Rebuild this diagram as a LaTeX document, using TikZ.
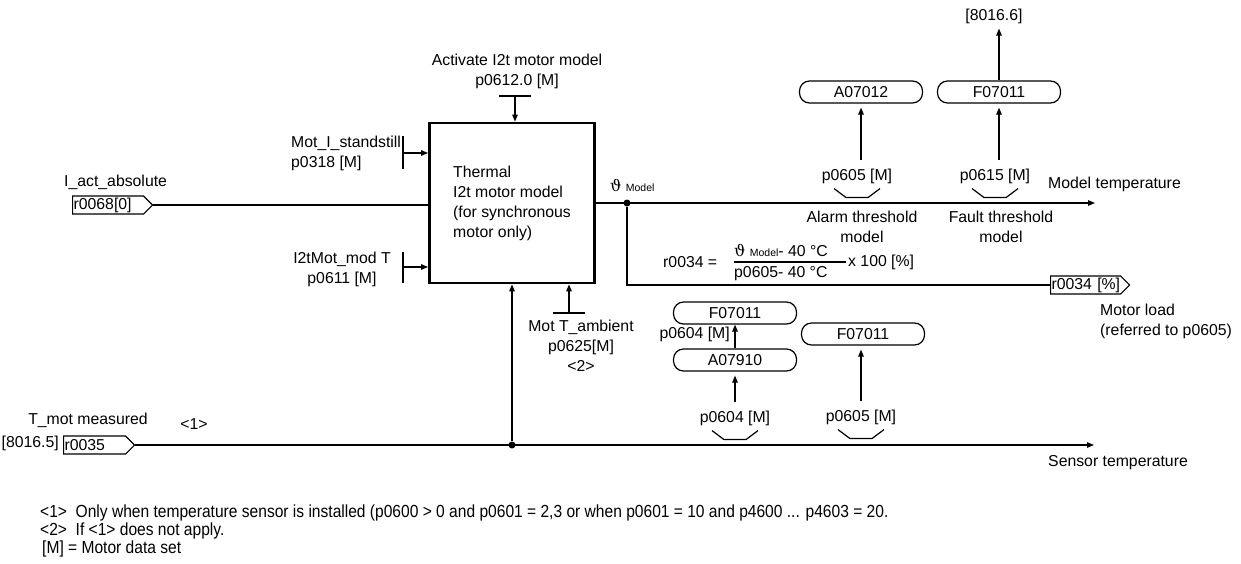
\documentclass[tikz,border=0pt]{standalone}
\usepackage{fontspec}
\setmainfont{Liberation Sans}
\newfontfamily\narrowfont[FakeStretch=0.89]{Liberation Sans}
\newfontfamily\thetafont{DejaVu Serif}
\usetikzlibrary{positioning, arrows.meta, shapes.symbols}

\begin{document}
\begin{tikzpicture}[
    x=1pt, y=-1pt,
    font=\fontsize{15.8}{20}\selectfont,
    lbl/.style={inner sep=0pt, align=center},
    ln/.style={line width=1.2pt},
    arr/.style={ln, -{Triangle[length=7pt,width=5.5pt]}},
    model/.style={draw, line width=2.8pt, minimum width=165, minimum height=160},
    msg/.style={draw, ln, rounded corners=10pt, minimum width=123, minimum height=22, inner sep=0pt},
    conn/.style={draw, ln, signal, signal to=east, signal pointer angle=90, minimum height=18,
      inner xsep=1pt, inner ysep=0pt, text width=#1, align=left, anchor=west},
    dot/.style={circle, fill, inner sep=0pt, minimum size=7},
    note/.style={lbl, anchor=west, font=\narrowfont\fontsize{17.5}{18}\selectfont},
    pics/thr/.style={code={\draw[ln] (-23,0) -- (-11,9) -- (11,9) -- (23,0);}}
  ]
  \useasboundingbox (0,0) rectangle (1241,563);

  % thermal model
  \node[model] (model) at (512,203) {};
  \node[lbl, anchor=west, align=left] (modeltxt) at (453,203) {Thermal\\I2t motor model\\(for synchronous\\motor only)};

  % inputs
  \node[lbl] (act) at (517,71) {Activate I2t motor model\\p0612.0 [M]};
  \coordinate (actbar) at (515,96);
  \draw[ln] ([xshift=-16pt]actbar) -- ([xshift=16pt]actbar);
  \draw[arr] (actbar) -- (actbar |- model.north);

  \node[lbl, anchor=west, align=left] (stand) at (291,153) {Mot\_I\_standstill\\p0318 [M]};
  \coordinate (standbar) at (403,153);
  \draw[ln] ([yshift=17pt]standbar) -- ([yshift=-16pt]standbar);
  \draw[arr] (standbar) -- (standbar -| model.west);

  \node[lbl] (modt) at (342,269) {I2tMot\_mod T\\p0611 [M]};
  \coordinate (modtbar) at (403,267);
  \draw[ln] ([yshift=15pt]modtbar) -- ([yshift=-16pt]modtbar);
  \draw[arr] (modtbar) -- (modtbar -| model.west);

  \node[conn=69] (ract) at (72,205) {r0068[0]};
  \node[lbl, anchor=west] (iact) at (64,182) {I\_act\_absolute};
  \draw[ln] (ract.east) -- (ract.east -| model.west);

  \coordinate (ambbar) at (569,313);
  \draw[ln] ([xshift=-16pt]ambbar) -- ([xshift=16pt]ambbar);
  \draw[arr] (ambbar) -- (ambbar |- model.south);
  \node[lbl] (amb) at (581,346) {Mot T\_ambient\\p0625[M]\\<2>};

  % model temperature
  \node[dot] (mjunc) at (627,203) {};
  \coordinate (mtend) at (1095,203);
  \draw[arr] (model.east) -- (mtend);
  \node[lbl, anchor=south west] (theta) at (610,192) {{\thetafont ϑ} {\fontsize{10.5}{10}\selectfont Model}};
  \node[lbl, anchor=west] (mtemp) at (1048,184) {Model temperature};

  \node[msg] (a7012) at (861,92) {A07012};
  \node[lbl] (p605a) at (857,176) {p0605 [M]};
  \pic at ([yshift=-5pt]p605a.south) {thr};
  \draw[arr, shorten <=8pt, shorten >=4pt] (p605a.north -| a7012.south) -- (a7012.south);
  \node[lbl] (alarm) at (862,227) {Alarm threshold\\model};

  \node[msg] (f7011) at (999,92) {F07011};
  \node[lbl] (p615) at (995,176) {p0615 [M]};
  \pic at ([yshift=-5pt]p615.south) {thr};
  \draw[arr, shorten <=8pt, shorten >=4pt] (p615.north -| f7011.south) -- (f7011.south);
  \node[lbl] (f8016) at (994,16) {[8016.6]};
  \draw[arr, shorten >=5pt] (f7011.north) -- (f8016.south -| f7011.north);
  \node[lbl] (fault) at (1001,227) {Fault threshold\\model};

  % motor load
  \node[conn=68] (r34) at (1050,285) {r0034~[\%]};
  \draw[ln] (mjunc) |- (r34.west);
  \node[lbl, anchor=north west, align=left] (mload) at (1100,304) {Motor load\\(referred to p0605)};

  \node[lbl, anchor=west] (r34eq) at (663,262) {r0034 =};
  \node[lbl, anchor=west] (num) at (734,250) {{\thetafont ϑ} {\fontsize{10.5}{10}\selectfont Model}- 40 °C};
  \node[lbl, anchor=west] (den) at (734,274) {p0605- 40 °C};
  \draw[ln] (num.west |- r34eq) -- ++(112,0);
  \node[lbl, anchor=west] (pct) at (848,262) {x 100 [\%]};

  % messages on sensor side
  \node[msg] (f7011b) at (735,313) {F07011};
  \node[msg] (a7910) at (735,360) {A07910};
  \draw[arr] (a7910.north) -- (f7011b.south);
  \node[lbl, anchor=east] (p604m) at (730,334) {p0604 [M]};
  \node[lbl] (p604b) at (735,418) {p0604 [M]};
  \pic at ([yshift=-5pt]p604b.south) {thr};
  \draw[arr, shorten <=8pt, shorten >=4pt] (p604b.north) -- (a7910.south);

  \node[msg] (f7011c) at (863,334) {F07011};
  \node[lbl] (p605b) at (861,417) {p0605 [M]};
  \pic at ([yshift=-5pt]p605b.south) {thr};
  \draw[arr, shorten <=8pt, shorten >=4pt] (p605b.north) -- (p605b.north |- f7011c.south);

  % sensor temperature
  \node[conn=60] (r35) at (63,445) {r0035};
  \node[lbl, anchor=east] (ref5) at (59,443) {[8016.5]};
  \node[lbl] (tmot) at (88,420) {T\_mot measured};
  \node[lbl] (note1) at (194,424) {<1>};
  \node[dot] (sjunc) at (512,445) {};
  \coordinate (stend) at (1094,445);
  \draw[arr] (r35.east) -- (stend);
  \draw[arr] (sjunc) -- (sjunc |- model.south);
  \node[lbl, anchor=west] (sens) at (1048,463) {Sensor temperature};

  % notes
  \node[note] (foot1) at (40,513) {<1>\ \ Only when temperature sensor is installed (p0600 > 0 and p0601 = 2,3 or when p0601 = 10 and p4600 ... p4603 = 20.};
  \node[note] (foot2) at (40,531) {<2>\ \ If <1> does not apply.};
  \node[note] (foot3) at (42,549) {[M] = Motor data set};
\end{tikzpicture}
\end{document}
